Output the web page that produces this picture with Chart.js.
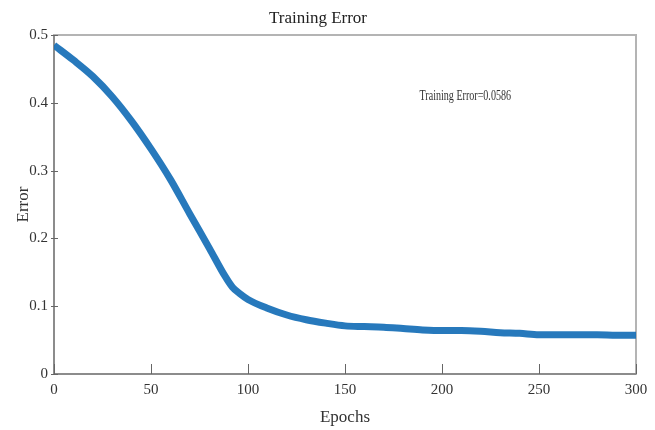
<!DOCTYPE html>
<html>
<head>
<meta charset="utf-8">
<title>Training Error</title>
<script src="https://cdn.jsdelivr.net/npm/chart.js@4.4.1/dist/chart.umd.min.js"></script>
<style>
  html, body { margin: 0; padding: 0; background: #fff; }
  #wrap { width: 655px; height: 430px; position: relative; }
</style>
</head>
<body>
<div id="wrap"><canvas id="errChart"></canvas></div>
<script>
// ── data ──
const epochs = [0, 10, 20, 30, 40, 50, 60, 70, 80, 88, 92, 96, 100, 110, 120, 130, 140, 150,
  160, 170, 180, 190, 200, 210, 220, 230, 240, 250, 260, 270, 280, 290, 300];
const trainErr = [0.485, 0.463, 0.439, 0.409, 0.373, 0.332, 0.287, 0.236, 0.186, 0.145, 0.128,
  0.118, 0.110, 0.097, 0.087, 0.080, 0.075, 0.071, 0.070, 0.069, 0.067, 0.065, 0.064, 0.064,
  0.063, 0.061, 0.060, 0.058, 0.058, 0.058, 0.058, 0.057, 0.057];
const xTicks = [0, 50, 100, 150, 200, 250, 300];
const yTicks = [0, 0.1, 0.2, 0.3, 0.4, 0.5];
const noteText = 'Training Error=0.0586';

const SERIF = '"Liberation Serif", "DejaVu Serif", serif';

// frame + inward tick marks + the little annotation
const framePlugin = {
  id: 'frame',
  beforeDatasetsDraw(chart) {
    const { ctx, chartArea: a, scales } = chart;
    ctx.save();
    ctx.lineWidth = 2;
    ctx.strokeStyle = '#b4b4b4';
    ctx.strokeRect(a.left, a.top, a.right - a.left, a.bottom - a.top);
    ctx.strokeStyle = '#8c8c8c';
    ctx.beginPath();
    ctx.moveTo(a.left, a.top);
    ctx.lineTo(a.left, a.bottom);
    ctx.lineTo(a.right, a.bottom);
    ctx.stroke();

    ctx.lineWidth = 1;
    ctx.strokeStyle = '#666';
    xTicks.forEach(v => {
      const px = Math.round(scales.x.getPixelForValue(v)) + 0.5;
      ctx.beginPath();
      ctx.moveTo(px, a.bottom);
      ctx.lineTo(px, a.bottom - 10);
      ctx.stroke();
    });
    yTicks.forEach(v => {
      const py = Math.round(scales.y.getPixelForValue(v)) + 0.5;
      ctx.beginPath();
      ctx.moveTo(a.left - 3, py);
      ctx.lineTo(a.left + 4, py);
      ctx.stroke();
    });
    ctx.restore();
  },
  afterDraw(chart) {
    const { ctx, scales } = chart;
    const px = scales.x.getPixelForValue(212);
    const py = scales.y.getPixelForValue(0.41);
    ctx.save();
    ctx.translate(px, py);
    ctx.scale(0.72, 1);
    ctx.font = '14px ' + SERIF;
    ctx.fillStyle = '#333';
    ctx.textAlign = 'center';
    ctx.textBaseline = 'middle';
    ctx.fillText(noteText, 0, 0);
    ctx.restore();
  }
};

const ctx = document.getElementById('errChart').getContext('2d');

new Chart(ctx, {
  type: 'line',
  data: {
    datasets: [{
      label: 'Training Error',
      data: epochs.map((e, i) => ({ x: e, y: trainErr[i] })),
      borderColor: 'rgba(27,114,184,0.95)',
      borderWidth: 7,
      pointRadius: 0,
      cubicInterpolationMode: 'monotone',
      fill: false,
    }],
  },
  options: {
    responsive: true,
    maintainAspectRatio: false,
    animation: false,
    layout: { padding: { left: 0, right: 19, top: 0, bottom: 0 } },
    plugins: {
      legend: { display: false },
      tooltip: { enabled: false },
      title: {
        display: true,
        text: 'Training Error',
        color: '#222',
        font: { family: SERIF, size: 17, weight: 'normal', lineHeight: 1.2 },
        padding: { top: 8, bottom: 6.6 },
      },
    },
    scales: {
      x: {
        type: 'linear',
        min: 0,
        max: 300,
        afterBuildTicks: s => { s.ticks = xTicks.map(v => ({ value: v })); },
        afterFit: s => { s.height = 56; },
        grid: { display: false, drawTicks: false },
        border: { display: false },
        ticks: {
          color: '#333',
          padding: 7,
          font: { family: SERIF, size: 15 },
          maxRotation: 0,
        },
        title: {
          display: true,
          text: 'Epochs',
          color: '#333',
          font: { family: SERIF, size: 17 },
          padding: { top: 0, bottom: 2 },
        },
      },
      y: {
        min: 0,
        max: 0.5,
        afterBuildTicks: s => { s.ticks = yTicks.map(v => ({ value: v })); },
        afterFit: s => { s.width = 54; },
        grid: { display: false, drawTicks: false },
        border: { display: false },
        ticks: {
          color: '#333',
          padding: 6,
          font: { family: SERIF, size: 15 },
          callback: v => (v === 0 ? '0' : String(v)),
        },
        title: {
          display: true,
          text: 'Error',
          color: '#333',
          font: { family: SERIF, size: 17 },
          padding: { top: 13, bottom: 0 },
        },
      },
    },
  },
  plugins: [framePlugin],
});
</script>
</body>
</html>
